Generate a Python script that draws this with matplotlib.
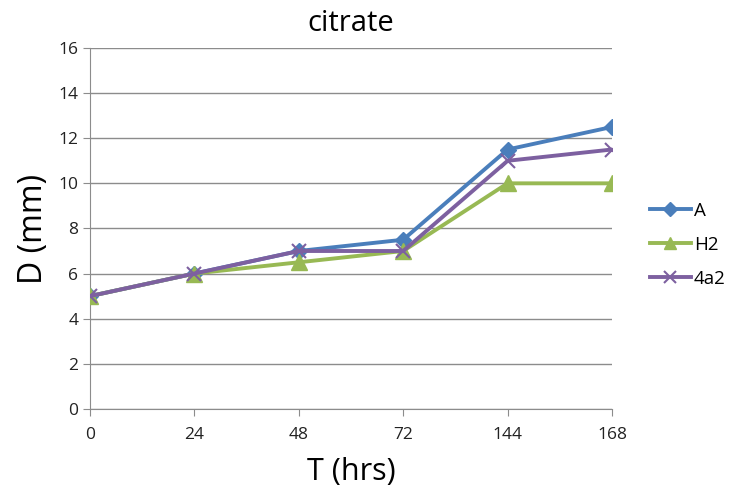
import numpy as np
import matplotlib.pyplot as plt

# data
hours = ['0', '24', '48', '72', '144', '168']
A = [5, 6, 7, 7.5, 11.5, 12.5]
H2 = [5, 6, 6.5, 7, 10, 10]
s4a2 = [5, 6, 7, 7, 11, 11.5]

plt.rcParams['font.family'] = ['Open Sans', 'DejaVu Sans']

fig = plt.figure(figsize=(7.32, 4.95), dpi=100)
ax = fig.add_axes([0.123, 0.174, 0.713, 0.729])

x = np.arange(len(hours))
ax.plot(x, A, color='#4A7EBB', lw=2.8, marker='D', ms=8, label='A', zorder=3)
ax.plot(x, H2, color='#98B954', lw=2.8, marker='^', ms=11, label='H2', zorder=3)
ax.plot(x, s4a2, color='#7D60A0', lw=2.8, marker='x', ms=10, mew=1.5, label='4a2', zorder=4)

ax.set_xlim(0, len(hours) - 1)
ax.set_ylim(0, 16)
ax.set_yticks(np.arange(0, 17, 2))
ax.set_xticks(x)
ax.set_xticklabels(hours)
ax.yaxis.grid(True, color='#8C8C8C', lw=1)
ax.set_axisbelow(True)
for s in ['top', 'right']:
    ax.spines[s].set_visible(False)
for s in ['left', 'bottom']:
    ax.spines[s].set_color('#8C8C8C')
ax.tick_params(axis='both', colors='#8C8C8C', labelcolor='#222222', labelsize=12.5, length=5)
ax.tick_params(axis='x', pad=8)

ax.set_title('citrate', fontsize=21, pad=12)
ax.set_xlabel('T (hrs)', fontsize=22, labelpad=10)
ax.set_ylabel('D (mm)', fontsize=23, labelpad=6)

ax.legend(loc='center left', bbox_to_anchor=(1.04, 0.455), frameon=False,
          fontsize=13.5, handlelength=2.2, labelspacing=0.85, handletextpad=0.15,
          markerscale=0.85)

fig.savefig('out.png', dpi=100)
